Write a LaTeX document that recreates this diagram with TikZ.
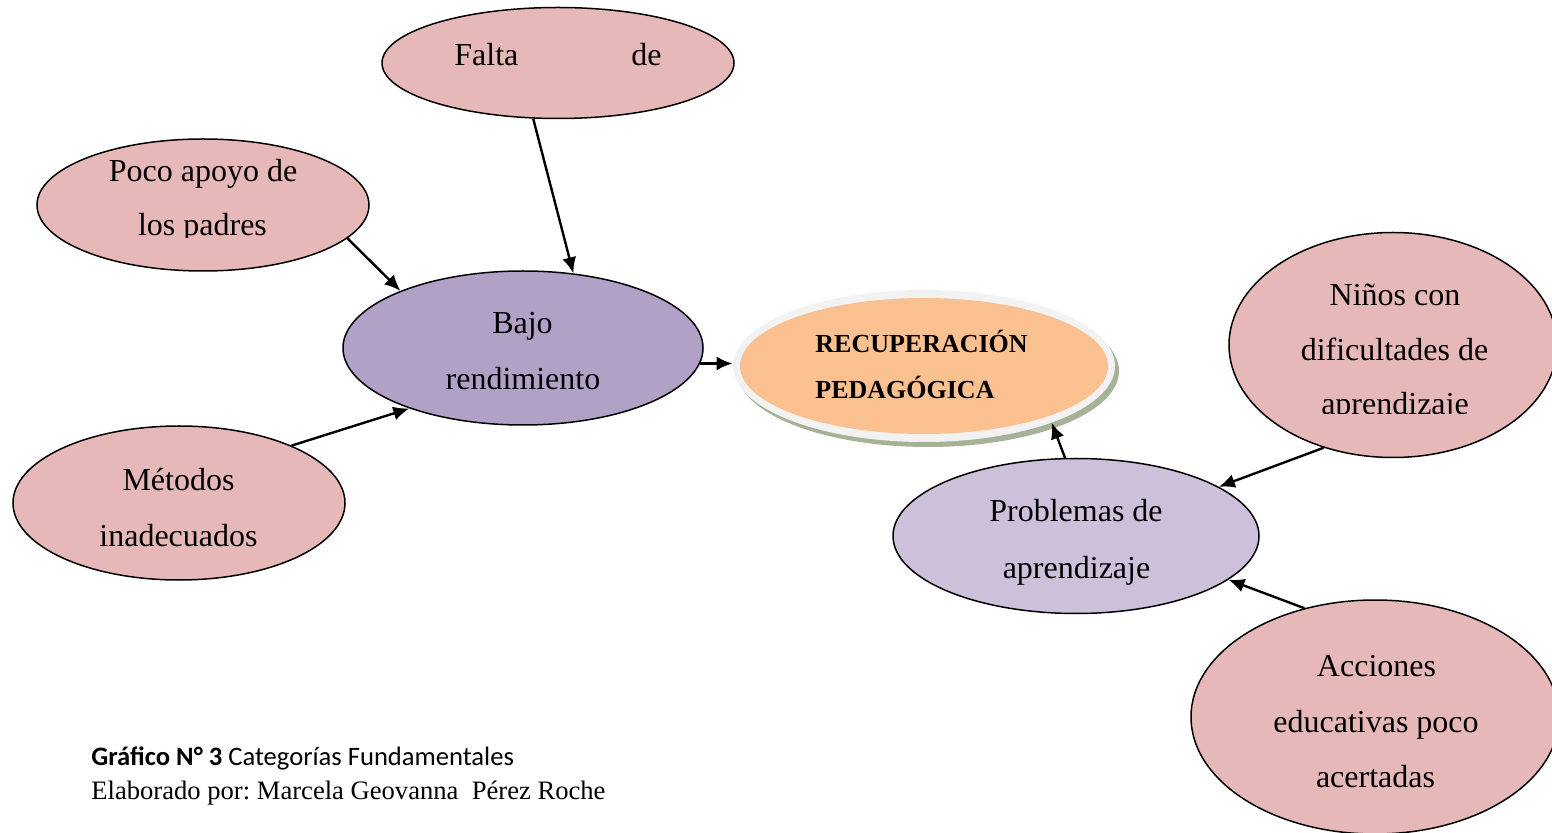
\documentclass[tikz,border=0pt]{standalone}
\usepackage{fontspec}
\setmainfont{Liberation Serif}
\newfontfamily\calfont{Carlito}
\usetikzlibrary{shapes.geometric,arrows.meta}
\definecolor{pinkc}{HTML}{E6B8B7}
\definecolor{bajoc}{HTML}{B2A1C7}
\definecolor{probc}{HTML}{CCC0DA}
\definecolor{orangec}{HTML}{FAC090}
\definecolor{ringc}{HTML}{F2F2F2}
\definecolor{shadc}{HTML}{A6B298}
\begin{document}
\frenchspacing
\begin{tikzpicture}[x=0.5pt,y=-0.5pt,
  bub/.style={ellipse,draw=black,line width=0.75pt,inner sep=0pt},
  pinkb/.style={bub,fill=pinkc},
  txt/.style={anchor=base,inner sep=0pt,font=\fontsize{16}{19}\selectfont},
  btxt/.style={anchor=base west,inner sep=0pt,font=\fontsize{13}{16}\selectfont\bfseries},
  arr/.style={-{Latex[length=8pt,width=7pt]},line width=1.2pt}]
\useasboundingbox (0,0) rectangle (1552,833);
\clip (0,0) rectangle (1552,833);

% ellipses
\node[pinkb,minimum width=176pt,minimum height=55.5pt] (falta) at (558,63) {};
\node[pinkb,minimum width=166pt,minimum height=66pt] (poco) at (203,205) {};
\node[bub,fill=bajoc,minimum width=180pt,minimum height=77pt] (bajo) at (523,348) {};
\node[pinkb,minimum width=166pt,minimum height=77pt] (metodos) at (179,503) {};
\node[ellipse,inner sep=0pt,fill=shadc,minimum width=191pt,minimum height=76pt] (recupsh) at (928,371) {};
\node[ellipse,inner sep=0pt,fill=ringc,minimum width=191pt,minimum height=76pt] (recup) at (924,366) {};
\node[ellipse,inner sep=0pt,fill=orangec,minimum width=184pt,minimum height=68pt] (recupin) at (924,366) {};
\node[pinkb,minimum width=164pt,minimum height=112.5pt] (ninos) at (1393,345) {};
\node[bub,fill=probc,minimum width=183pt,minimum height=77.5pt] (problemas) at (1076,536) {};
\node[pinkb,minimum width=184pt,minimum height=117pt] (acciones) at (1375,717) {};

% texts
\node[txt] (t1) at (558,66) {Falta\hspace{56.5pt}de};
\node[txt] (t2a) at (203,182) {Poco apoyo de};
\begin{scope}
\clip (0,0) rectangle (1552,238);
\node[txt] (t2b) at (202.5,236) {los padres};
\end{scope}
\node[txt] (t3a) at (522.5,334) {Bajo};
\node[txt] (t3b) at (523,390) {rendimiento};
\node[txt] (t4a) at (178.5,491) {Métodos};
\node[txt] (t4b) at (178.5,546) {inadecuados};
\node[btxt] (t5a) at (815,353) {RECUPERACIÓN};
\node[btxt] (t5b) at (815,399) {PEDAGÓGICA};
\node[txt] (t6a) at (1395,306) {Niños con};
\node[txt] (t6b) at (1394.5,361) {dificultades de};
\begin{scope}
\clip (0,0) rectangle (1552,414);
\node[txt] (t6c) at (1395,415) {aprendizaje};
\end{scope}
\node[txt] (t7a) at (1076,522) {Problemas de};
\node[txt] (t7b) at (1076.5,578) {aprendizaje};
\node[txt] (t8a) at (1376.5,676) {Acciones};
\node[txt] (t8b) at (1376,732) {educativas poco};
\node[txt] (t8c) at (1375.5,787) {acertadas};

% connectors
\draw[arr] (falta.246) -- (bajo.56);
\draw[arr] (poco.-13) -- (bajo.155);
\draw[arr] (metodos.27) -- (bajo.208);
\draw[arr] (bajo.-5) -- (bajo.-5 -| recup.west);
\draw[arr] (problemas.98) -- (recup.-24);
\draw[arr] (ninos.236) -- (problemas.19);
\draw[arr] (acciones.123) -- (problemas.-16);

% caption
\node[anchor=base west,inner sep=0pt,font=\calfont\fontsize{13.3}{16}\selectfont] (cap1) at (91,765) {\textbf{Gráfico N° 3} Categorías Fundamentales};
\node[anchor=base west,inner sep=0pt,font=\fontsize{13.3}{16}\selectfont] (cap2) at (91,799) {Elaborado por: Marcela Geovanna\ \ Pérez Roche};
\end{tikzpicture}
\end{document}
